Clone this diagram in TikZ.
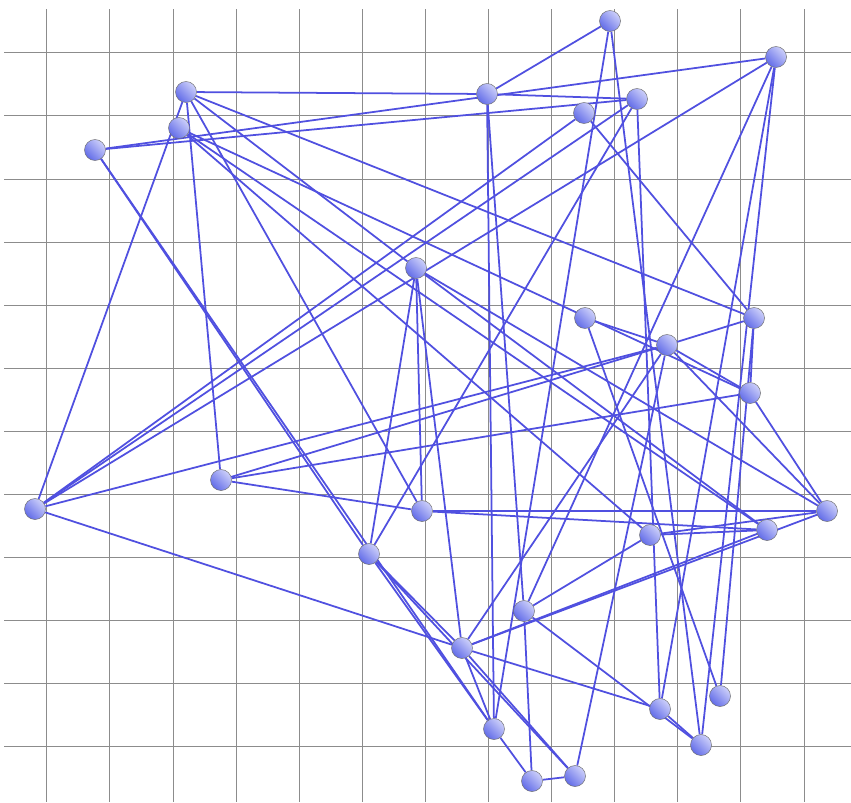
\documentclass[tikz,border=0pt]{standalone}
\usetikzlibrary{backgrounds}
\definecolor{edgeblue}{RGB}{80,80,224}
\definecolor{balllight}{RGB}{205,208,250}
\definecolor{balldark}{RGB}{98,108,232}
\definecolor{gridgray}{RGB}{140,140,140}

\begin{document}
\begin{tikzpicture}[x=0.03cm,y=-0.03cm,
  pt/.style={circle,draw=gray!85!black,line width=0.4pt,minimum size=0.63cm,inner sep=0pt,
    left color=balllight,right color=balldark,shading angle=-45},
  ln/.style={edgeblue,line width=1.5pt},
  grd/.style={gridgray,line width=0.6pt}]
  \useasboundingbox (0,0) rectangle (851,802);
  % balls
  \node[pt](p1) at (186,92){};   \node[pt](p2) at (179,128){};  \node[pt](p3) at (95,150){};
  \node[pt](p4) at (487,94){};   \node[pt](p5) at (610,21){};   \node[pt](p6) at (776,57){};
  \node[pt](p7) at (637,99){};   \node[pt](p8) at (584,113){};  \node[pt](p9) at (416,268){};
  \node[pt](p10) at (35,509){};  \node[pt](p11) at (221,480){}; \node[pt](p12) at (422,511){};
  \node[pt](p13) at (585,318){}; \node[pt](p14) at (667,345){}; \node[pt](p15) at (754,318){};
  \node[pt](p16) at (750,393){}; \node[pt](p17) at (827,511){}; \node[pt](p18) at (767,530){};
  \node[pt](p19) at (650,535){}; \node[pt](p20) at (369,554){}; \node[pt](p21) at (524,611){};
  \node[pt](p22) at (462,648){}; \node[pt](p23) at (494,729){}; \node[pt](p24) at (532,781){};
  \node[pt](p25) at (575,776){}; \node[pt](p26) at (660,709){}; \node[pt](p27) at (720,696){};
  \node[pt](p28) at (701,745){};
  \begin{pgfonlayer}{background}
    \fill[white] (0,0) rectangle (851,802);
    % grid
    \foreach \gx in {0,...,12} \draw[grd] ({46.7+63.1*\gx},9) -- ({46.7+63.1*\gx},802);
    \foreach \gy in {0,...,11} \draw[grd] (4,{52.7+63.1*\gy}) -- (851,{52.7+63.1*\gy});
    % links
    \draw[ln](p1)--(p4);\draw[ln](p1)--(p9);\draw[ln](p1)--(p10);\draw[ln](p1)--(p11);\draw[ln](p1)--(p12);\draw[ln](p1)--(p15);
    \draw[ln](p2)--(p16);\draw[ln](p2)--(p18);\draw[ln](p2)--(p19);
    \draw[ln](p3)--(p6);\draw[ln](p3)--(p7);\draw[ln](p3)--(p20);\draw[ln](p3)--(p23);
    \draw[ln](p4)--(p5);\draw[ln](p4)--(p7);\draw[ln](p4)--(p21);\draw[ln](p4)--(p23);
    \draw[ln](p5)--(p23);\draw[ln](p5)--(p28);
    \draw[ln](p6)--(p10);\draw[ln](p6)--(p21);\draw[ln](p6)--(p26);\draw[ln](p6)--(p28);
    \draw[ln](p7)--(p10);\draw[ln](p7)--(p20);\draw[ln](p7)--(p26);
    \draw[ln](p8)--(p10);\draw[ln](p8)--(p15);
    \draw[ln](p9)--(p12);\draw[ln](p9)--(p20);\draw[ln](p9)--(p17);\draw[ln](p9)--(p18);\draw[ln](p9)--(p22);
    \draw[ln](p10)--(p14);\draw[ln](p10)--(p22);
    \draw[ln](p11)--(p12);\draw[ln](p11)--(p14);\draw[ln](p11)--(p16);
    \draw[ln](p12)--(p17);\draw[ln](p12)--(p18);
    \draw[ln](p13)--(p14);\draw[ln](p13)--(p27);
    \draw[ln](p14)--(p15);\draw[ln](p14)--(p16);\draw[ln](p14)--(p17);\draw[ln](p14)--(p22);\draw[ln](p14)--(p25);
    \draw[ln](p15)--(p16);\draw[ln](p15)--(p27);\draw[ln](p16)--(p17);
    \draw[ln](p17)--(p19);\draw[ln](p17)--(p22);\draw[ln](p18)--(p19);\draw[ln](p18)--(p22);
    \draw[ln](p19)--(p21);
    \draw[ln](p20)--(p22);\draw[ln](p20)--(p23);\draw[ln](p20)--(p25);
    \draw[ln](p21)--(p24);\draw[ln](p21)--(p28);
    \draw[ln](p22)--(p23);\draw[ln](p22)--(p25);\draw[ln](p22)--(p26);
    \draw[ln](p23)--(p24);\draw[ln](p24)--(p25);\draw[ln](p26)--(p28);
  \end{pgfonlayer}
\end{tikzpicture}
\end{document}
